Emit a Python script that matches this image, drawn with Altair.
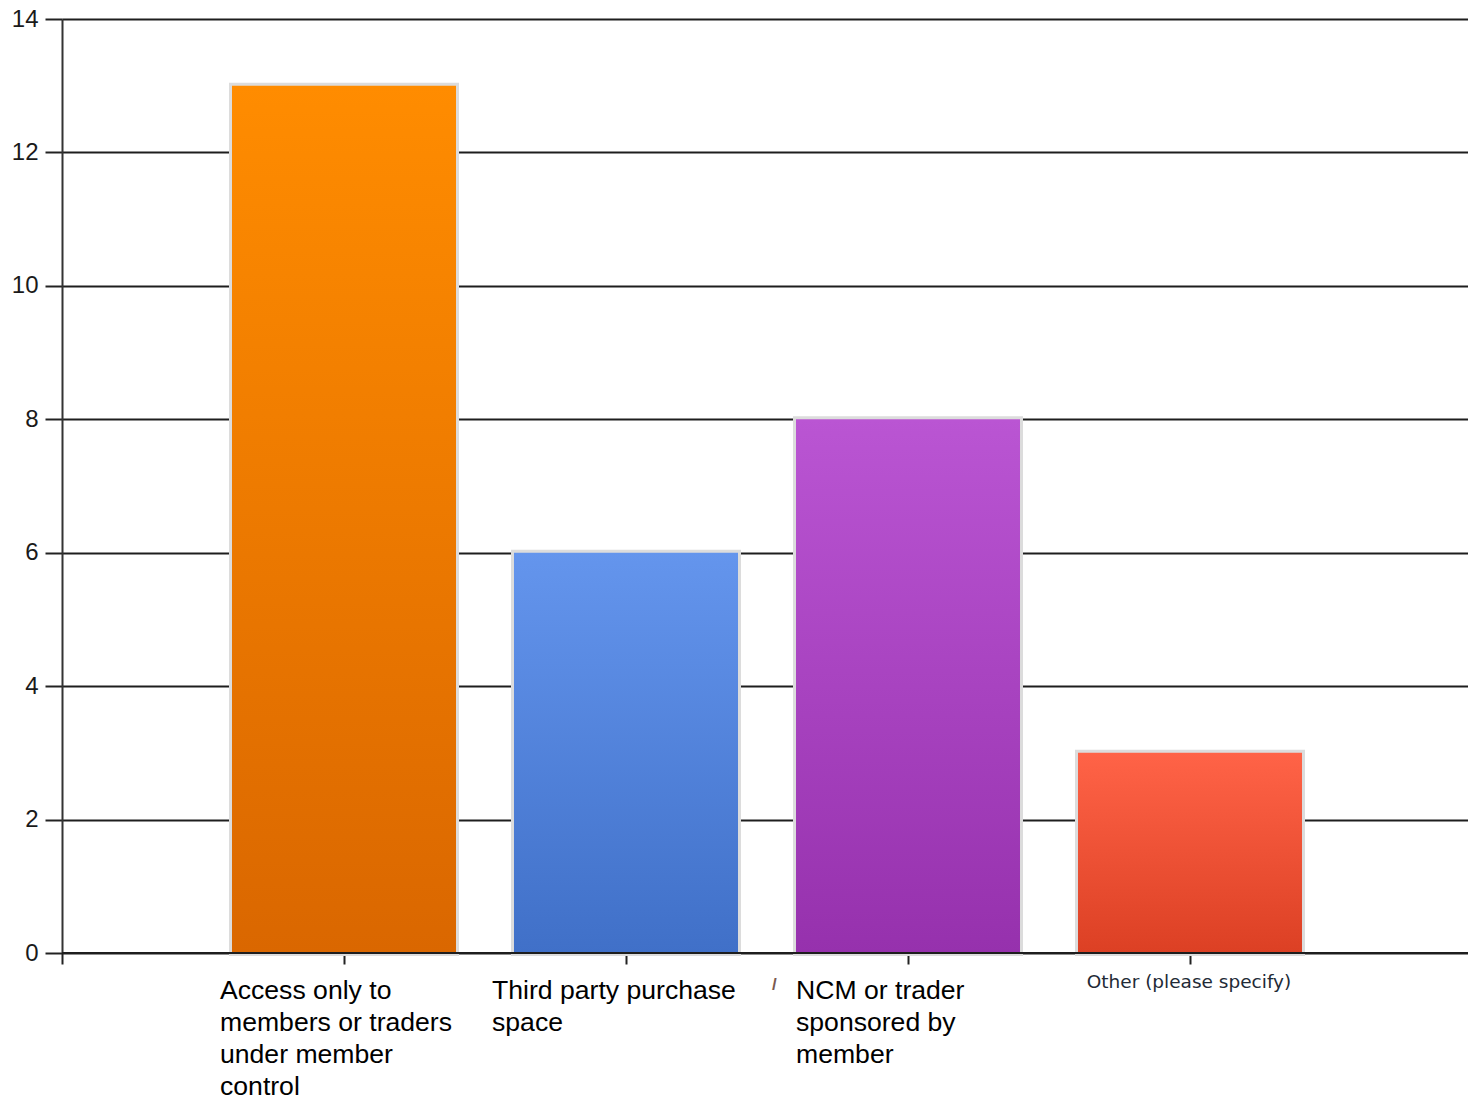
import altair as alt
import pandas as pd

# Survey answers and their counts
categories = [
    "Access only to members or traders under member control",
    "Third party purchase space",
    "NCM or trader sponsored by member",
    "Other (please specify)",
]
label_lines = [
    ["Access only to", "members or traders", "under member", "control"],
    ["Third party purchase", "space"],
    ["NCM or trader", "sponsored by", "member"],
    ["Other (please specify)"],
]
values = [13, 6, 8, 3]
y_ticks = [0, 2, 4, 6, 8, 10, 12, 14]

# Gradient palette (top colour, bottom colour) for each bar
top_colors = ["#FF8C00", "#6495ED", "#BA55D3", "#FF6347"]
bottom_colors = ["#DA6700", "#4070C8", "#9631AD", "#DC4024"]

W, H = 1406, 934
STEP = 282.0          # pixels between bar centres
HALF = 112 / STEP     # half bar width in x units
X_MAX = W / STEP

df = pd.DataFrame({
    "category": categories,
    "pos": [i + 1 for i in range(len(categories))],
    "value": values,
    "label": ["\n".join(lines) for lines in label_lines],
})
df["x0"] = df["pos"] - HALF
df["x1"] = df["pos"] + HALF

x_scale = alt.Scale(domain=[0, X_MAX], nice=False, zero=False)
y_scale = alt.Scale(domain=[0, 14], nice=False)

base = alt.Chart(df)

# Axes: y with black gridlines, x with ticks only at the bar centres
axis_layer = base.mark_point(opacity=0).encode(
    x=alt.X("pos:Q", scale=x_scale, title=None,
            axis=alt.Axis(values=[0, 1, 2, 3, 4], labels=False, domain=False,
                          grid=False, tickSize=11, tickWidth=2, tickColor="#222222")),
    y=alt.Y("value:Q", scale=y_scale, title=None,
            axis=alt.Axis(values=y_ticks, format="d", grid=True, gridColor="#1e1e1e", gridWidth=2,
                          domain=True, domainColor="#333333", domainWidth=2,
                          tickSize=17, tickWidth=2, tickColor="#222222",
                          labelFont="Liberation Sans", labelFontSize=24,
                          labelColor="#1a1a1a", labelPadding=7)),
)

layers = [axis_layer]

# Light grey frame around every bar
frame = base.mark_rect(fill="#dcdcdc", stroke="#dcdcdc", strokeWidth=6).encode(
    x=alt.X("x0:Q", scale=x_scale), x2="x1:Q",
    y=alt.Y("value:Q", scale=y_scale), y2=alt.datum(0),
)
layers.append(frame)

# Gradient-filled bars, one layer per category
for cat, c_top, c_bot in zip(categories, top_colors, bottom_colors):
    grad = alt.LinearGradient(
        gradient="linear", x1=0, y1=0, x2=0, y2=1,
        stops=[alt.GradientStop(color=c_top, offset=0),
               alt.GradientStop(color=c_bot, offset=1)],
    )
    bar = base.transform_filter(alt.datum.category == cat).mark_rect(fill=grad).encode(
        x=alt.X("x0:Q", scale=x_scale), x2="x1:Q",
        y=alt.Y("value:Q", scale=y_scale), y2=alt.datum(0),
    )
    layers.append(bar)

# Baseline drawn over the bars
baseline = alt.Chart(pd.DataFrame({"a": [0]})).mark_rule(color="#1e1e1e", strokeWidth=2).encode(
    x=alt.datum(0, scale=x_scale), x2=alt.datum(X_MAX),
    y=alt.datum(0, scale=y_scale),
)
layers.append(baseline)

# Category labels under the axis
label_dx = [-124, -134, -112]
for cat, dx in zip(categories[:3], label_dx):
    txt = base.transform_filter(alt.datum.category == cat).mark_text(
        align="left", baseline="alphabetic", dx=dx, dy=46, lineBreak="\n",
        lineHeight=32, font="Liberation Sans", fontSize=26.6, color="#000000",
    ).encode(
        x=alt.X("pos:Q", scale=x_scale),
        y=alt.datum(0, scale=y_scale),
        text="label:N",
    )
    layers.append(txt)

other = base.transform_filter(alt.datum.category == categories[3]).mark_text(
    align="center", baseline="alphabetic", dx=-1, dy=35,
    font="DejaVu Sans", fontSize=18.5, color="#222a36",
).encode(
    x=alt.X("pos:Q", scale=x_scale),
    y=alt.datum(0, scale=y_scale),
    text="label:N",
)
layers.append(other)

# Stray clipped glyph left of the third label
stray = base.transform_filter(alt.datum.category == categories[2]).mark_text(
    align="left", baseline="alphabetic", dx=-136, dy=37,
    font="Liberation Sans", fontSize=17, fontWeight="bold", color="#7a5a50",
).encode(
    x=alt.X("pos:Q", scale=x_scale),
    y=alt.datum(0, scale=y_scale),
    text=alt.value("/"),
)
layers.append(stray)

chart = alt.layer(*layers).properties(
    width=W, height=H,
    autosize=alt.AutoSizeParams(type="none"),
    padding={"left": 62, "top": 19, "right": 0, "bottom": 147},
).configure_view(stroke=None).configure(background="white")

chart.save("out.html", embed_options={"renderer": "svg", "actions": False})
